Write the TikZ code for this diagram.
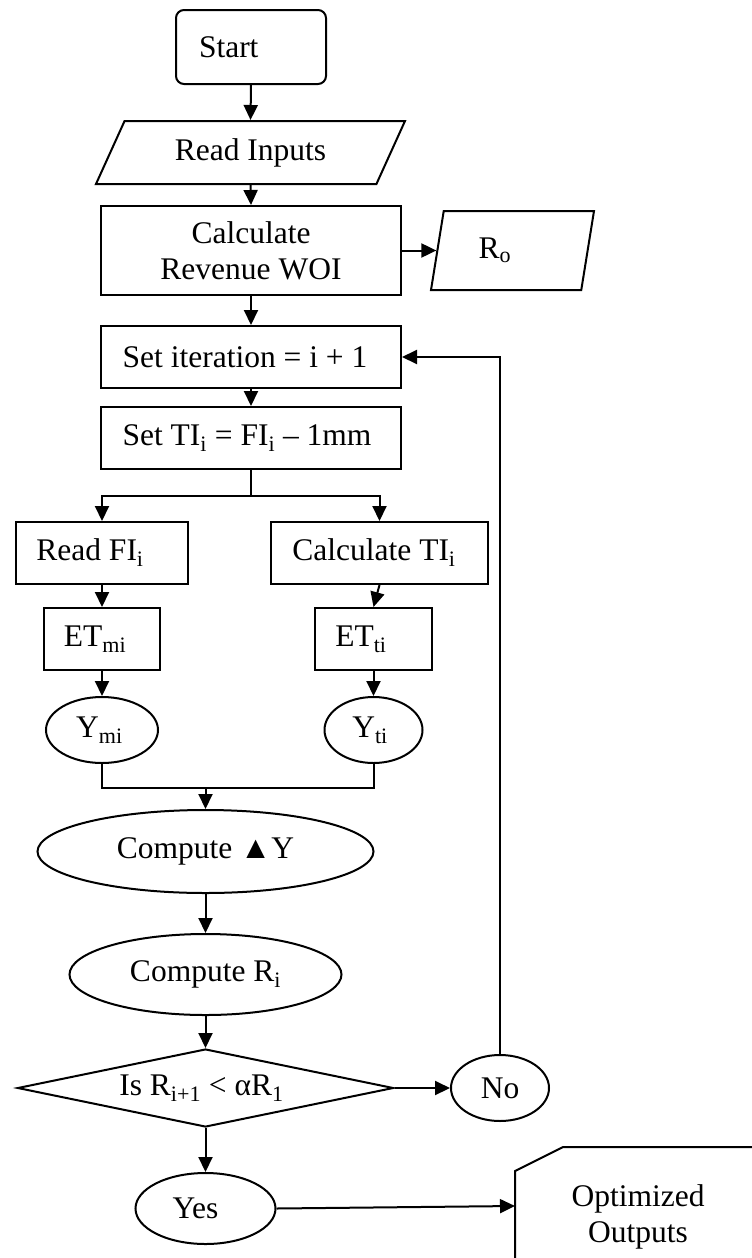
\documentclass[tikz,border=0pt]{standalone}
\usepackage{fontspec}
\setmainfont{Liberation Serif}
\usetikzlibrary{shapes.geometric,arrows.meta}
\newcommand\txl[2]{\hbox{#2\kern#1}}
\begin{document}
\begin{tikzpicture}[x=1pt,y=-1pt,
  every node/.style={font=\fontsize{31.5pt}{36pt}\selectfont, inner sep=0pt, line width=2pt},
  box/.style={draw, rectangle, align=center},
  oval/.style={draw, ellipse},
  para/.style={draw, trapezium, trapezium stretches body=true},
  flow/.style={line width=2pt, -{Triangle[length=15pt,width=14pt]}},
  plain/.style={line width=2pt}]
\useasboundingbox (0,0) rectangle (752,1258);

\node[box, rounded corners=8pt, minimum width=150pt, minimum height=74pt,
      text width=104pt, align=left, inner xsep=23pt] (start) at (251,47) {Start};
\node[para, trapezium left angle=45, trapezium right angle=135,
      minimum width=309pt, minimum height=63pt] (read) at (250.5,152.5) {Read Inputs};
\node[box, minimum width=300pt, minimum height=89pt] (calc) at (251,250.5) {Calculate\\Revenue WOI};
\node[para, trapezium left angle=62.6, trapezium right angle=117.4,
      minimum width=163pt, minimum height=79pt] (ro) at (512.5,250.5) {\txl{35pt}{R\textsubscript{o}}};
\node[box, minimum width=300pt, minimum height=62pt] (iter) at (251,357) {\txl{12pt}{Set iteration = i + 1}};
\node[box, minimum width=300pt, minimum height=62pt] (setti) at (251,438) {\txl{8pt}{Set TI\textsubscript{i} = FI\textsubscript{i} – 1mm}};
\node[box, minimum width=172pt, minimum height=62pt] (readfi) at (102,553) {\txl{24pt}{Read FI\textsubscript{i}}};
\node[box, minimum width=217pt, minimum height=62pt] (calcti) at (379.5,553) {\txl{11pt}{Calculate TI\textsubscript{i}}};
\node[box, minimum width=116pt, minimum height=62pt] (etm) at (102,639) {\txl{14pt}{ET\textsubscript{mi}}};
\node[box, minimum width=117pt, minimum height=62pt] (ett) at (373.5,639) {\txl{25pt}{ET\textsubscript{ti}}};
\node[oval, minimum width=112pt, minimum height=66pt] (ym) at (102,730) {\txl{5pt}{Y\textsubscript{mi}}};
\node[oval, minimum width=98pt, minimum height=66pt] (yt) at (373.5,730) {\txl{7pt}{Y\textsubscript{ti}}};
\node[oval, minimum width=336pt, minimum height=83pt] (dy) at (205.5,851.5) {Compute ▲Y};
\node[oval, minimum width=272pt, minimum height=81pt] (ri) at (205.5,974.5) {Compute R\textsubscript{i}};
\node[draw, diamond, aspect=4.82, minimum width=376pt, minimum height=78pt] (dec) at (205.5,1088)
      {\txl{8pt}{Is R\textsubscript{i+1} < αR\textsubscript{1}}};
\node[oval, minimum width=98pt, minimum height=66pt] (no) at (500,1088) {No};
\node[oval, minimum width=140pt, minimum height=71pt] (yes) at (205.5,1208.5) {\txl{20pt}{Yes}};
\node[align=center] (opt) at (638,1217) {Optimized\\Outputs};

\coordinate (outin) at (515,1206);
\draw[plain] (515,1262) -- (515,1171) -- (563,1147) -- (756,1147);

\draw[flow] (start.south) -- (read.north);
\draw[flow] (read.south) -- (calc.north);
\draw[flow] (calc.east) -- (ro.left side);
\draw[flow] (calc.south) -- (iter.north);
\draw[flow] (iter.south) -- (setti.north);
\draw[plain] (setti.south) -- ++(0,26) coordinate (split);
\draw[flow] (split) -| (readfi.north);
\draw[flow] (split) -| (calcti.north);
\draw[flow] (readfi.south) -- (etm.north);
\draw[flow] (calcti.south) -- (ett.north);
\draw[flow] (etm.south) -- (ym.north);
\draw[flow] (ett.south) -- (yt.north);
\draw[plain] (ym.south) -- ++(0,24) coordinate (merge) -| (yt.south);
\draw[flow] (merge -| dy.north) -- (dy.north);
\draw[flow] (dy.south) -- (ri.north);
\draw[flow] (ri.south) -- (dec.north);
\draw[flow] (dec.east) -- (no.west);
\draw[flow] (no.north) |- (iter.east);
\draw[flow] (dec.south) -- (yes.north);
\draw[flow] (yes.east) -- (outin);
\end{tikzpicture}
\end{document}
